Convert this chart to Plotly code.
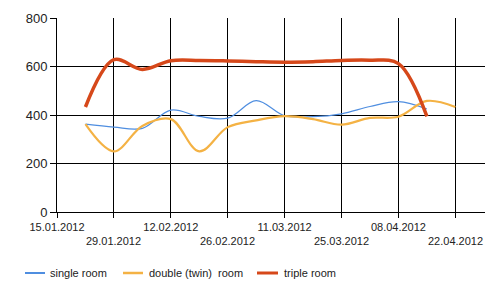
import plotly.graph_objects as go
import pandas as pd

dates = pd.date_range("2012-01-22", periods=14, freq="7D")
single_room = [362, 350, 345, 420, 394, 387, 459, 397, 393, 405, 435, 455, 425]
double_room = [362, 250, 355, 383, 250, 350, 378, 395, 383, 360, 388, 393, 458, 433]
triple_room = [433, 628, 588, 624, 625, 623, 620, 618, 620, 625, 626, 612, 394]

series_names = ["single room", "double (twin)  room", "triple room"]
series_colors = ["#4f8ee0", "#f4b244", "#d6481a"]
series_widths = [1.2, 2.2, 3.5]

tick_dates = pd.date_range("2012-01-15", periods=8, freq="14D")
tick_labels = [d.strftime("%d.%m.%Y") for d in tick_dates]
y_ticks = [0, 200, 400, 600, 800]

FONT = "Liberation Sans, Arial, sans-serif"

fig = go.Figure()
for vals, name, col, w in zip([single_room, double_room, triple_room],
                              series_names, series_colors, series_widths):
    fig.add_trace(go.Scatter(
        x=dates[:len(vals)], y=vals, mode="lines", name=name,
        line=dict(color=col, width=w, shape="spline", smoothing=1.0),
        showlegend=False,
    ))

# staggered x tick labels: first row via axis, second row via annotations
row1 = [t if i % 2 == 0 else "" for i, t in enumerate(tick_labels)]
for i, (d, t) in enumerate(zip(tick_dates, tick_labels)):
    if i % 2 == 1:
        fig.add_annotation(x=d, y=0, xref="x", yref="paper", text=t,
                           showarrow=False, yanchor="top", yshift=-21,
                           font=dict(family=FONT, size=11, color="#222"))

# custom legend
plot_l, plot_r = 57, 485
def px2paper(px):
    return (px - plot_l) / (plot_r - plot_l)

leg_line_x = [(25, 45), (123, 143), (257, 278)]
leg_text_x = [50, 149, 284]
leg_widths = [2, 2.5, 3]
leg_y_paper = -(273 - 212) / (212 - 18)
for (x0, x1), tx, name, col, lw in zip(leg_line_x, leg_text_x, series_names, series_colors, leg_widths):
    fig.add_shape(type="line", xref="paper", yref="paper",
                  x0=px2paper(x0), x1=px2paper(x1), y0=leg_y_paper, y1=leg_y_paper,
                  line=dict(color=col, width=lw))
    fig.add_annotation(x=px2paper(tx), y=leg_y_paper, xref="paper", yref="paper",
                       text=name, showarrow=False, xanchor="left", yanchor="middle",
                       xshift=-2,
                       font=dict(family=FONT, size=11, color="#222"))

fig.update_layout(
    width=500, height=296,
    margin=dict(l=57, r=15, t=18, b=84),
    paper_bgcolor="white", plot_bgcolor="white",
    font=dict(family=FONT, size=11, color="#222"),
    showlegend=False,
)
fig.update_xaxes(
    range=["2012-01-15", "2012-04-29 07:00"],
    tickmode="array", tickvals=tick_dates, ticktext=row1,
    showgrid=True, gridcolor="black", gridwidth=1,
    showline=True, linecolor="black", linewidth=1,
    ticks="outside", ticklen=5, tickcolor="black",
    tickfont=dict(family=FONT, size=11, color="#222"),
    zeroline=False,
)
fig.update_yaxes(
    range=[0, 800], tickvals=y_ticks,
    showgrid=True, gridcolor="black", gridwidth=1,
    showline=True, linecolor="black", linewidth=1,
    ticks="outside", ticklen=6, tickcolor="black",
    tickfont=dict(family=FONT, size=13, color="#222"),
    zeroline=False,
)

fig.write_html("out.html")
